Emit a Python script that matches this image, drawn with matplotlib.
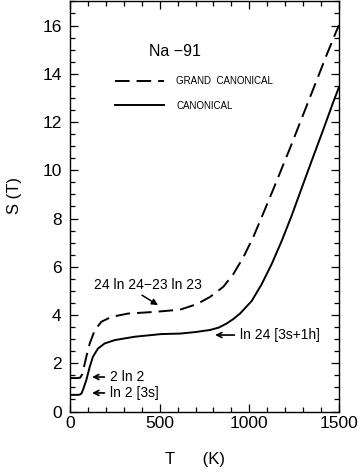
import matplotlib
matplotlib.use("Agg")
import matplotlib.pyplot as plt
from matplotlib.ticker import MultipleLocator

plt.rcParams['font.family'] = ['Liberation Sans', 'DejaVu Sans']

# Canonical ensemble (solid)
T_canon = [0, 40, 55, 65, 75, 91, 110, 128, 156, 193, 249, 361, 509, 613, 695, 781, 830,
           874, 910, 948, 1013, 1069, 1125, 1181, 1236, 1283, 1348, 1413, 1469, 1500]
S_canon = [0.69, 0.69, 0.70, 0.76, 0.95, 1.30, 1.85, 2.27, 2.61, 2.82, 2.96, 3.10, 3.21, 3.23, 3.29, 3.38, 3.48,
           3.65, 3.83, 4.06, 4.58, 5.28, 6.12, 7.08, 8.12, 9.08, 10.40, 11.70, 12.85, 13.45]

# Grand canonical ensemble (dashed)
T_grand = [0, 45, 58, 68, 78, 91, 110, 138, 175, 230, 323, 472, 613, 707, 781, 855,
           911, 967, 1022, 1078, 1134, 1181, 1227, 1292, 1366, 1432, 1487, 1500]
S_grand = [1.386, 1.386, 1.41, 1.55, 1.85, 2.27, 2.82, 3.37, 3.72, 3.92, 4.06, 4.13, 4.22, 4.45, 4.75, 5.17,
           5.70, 6.40, 7.23, 8.22, 9.22, 10.08, 10.92, 12.15, 13.55, 14.80, 15.80, 16.02]

labels = ["GRAND  CANONICAL", "CANONICAL"]

fig = plt.figure(figsize=(3.63, 4.73), dpi=100)
ax = fig.add_axes([0.1928, 0.130, 0.7411, 0.867])

ax.plot(T_grand, S_grand, color='black', lw=1.4, dashes=(7.5, 3.6), label=labels[0])
ax.plot(T_canon, S_canon, color='black', lw=1.4, label=labels[1])

ax.set_xlim(0, 1500)
ax.set_ylim(0, 17)
ax.xaxis.set_major_locator(MultipleLocator(500))
ax.xaxis.set_minor_locator(MultipleLocator(100))
ax.yaxis.set_major_locator(MultipleLocator(2))
ax.yaxis.set_minor_locator(MultipleLocator(0.5))
ax.tick_params(which='both', direction='in', top=True, right=True, width=0.9)
ax.tick_params(which='major', length=5.5, labelsize=12.5)
ax.tick_params(which='minor', length=3.5)
ax.tick_params(axis='x', which='major', pad=3)
ax.tick_params(axis='y', which='major', pad=6)
for s in ax.spines.values():
    s.set_linewidth(1.0)

ax.set_ylabel("S (T)", fontsize=12)
ax.yaxis.set_label_coords(-0.178, 0.527)
ax.set_xlabel("T      (K)", fontsize=12)
ax.xaxis.set_label_coords(0.463, -0.0986)

ax.text(586, 14.92, "Na \u221291", fontsize=11.5, ha='center', va='center')

leg = ax.legend(loc='upper left', bbox_to_anchor=(0.167, 0.818), frameon=False,
                fontsize=7, handlelength=5.1, handletextpad=1.2, labelspacing=1.5,
                borderpad=0, borderaxespad=0)

arrow_open = dict(arrowstyle='->', color='black', lw=1.2, shrinkA=2, shrinkB=0,
                  mutation_scale=9)
ax.annotate("2 ln 2", xy=(123, 1.43), xytext=(223, 1.43), fontsize=10,
            ha='left', va='center', arrowprops=arrow_open)
ax.annotate("ln 2 [3s]", xy=(123, 0.77), xytext=(223, 0.77), fontsize=10,
            ha='left', va='center', arrowprops=arrow_open)
ax.annotate("ln 24 [3s+1h]", xy=(809, 3.17), xytext=(948, 3.17), fontsize=10,
            ha='left', va='center', arrowprops=arrow_open)
ax.text(432, 5.24, "24 ln 24\u221223 ln 23", fontsize=10, ha='center', va='center')
ax.annotate("", xy=(491, 4.41), xytext=(402, 4.82),
            arrowprops=dict(arrowstyle='-|>', color='black', lw=1.1, shrinkA=0, shrinkB=0,
                            mutation_scale=9))

fig.savefig("out.png", dpi=100)
